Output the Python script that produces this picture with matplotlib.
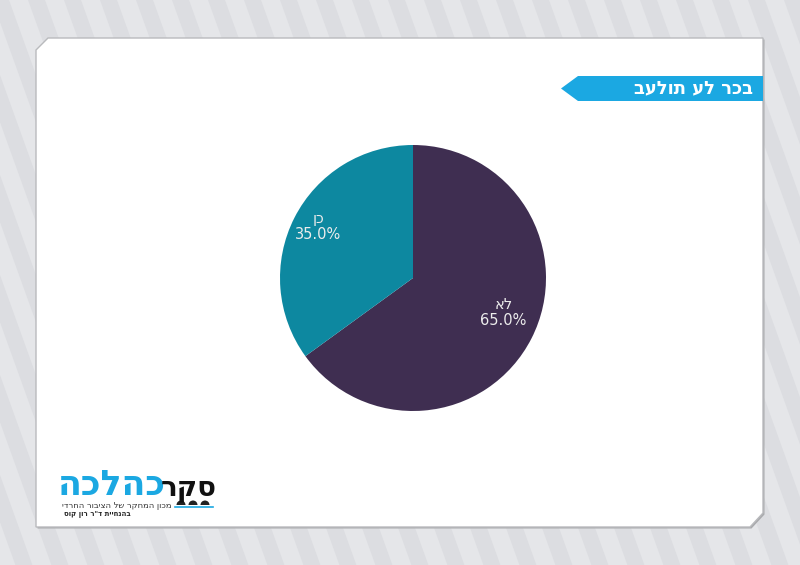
import matplotlib.pyplot as plt
from matplotlib.patches import Polygon, Wedge
import numpy as np

# chart data (Hebrew text stored in the left-to-right order it is drawn)
title = "בעלות על רכב"
labels = ["אל", "ןכ"]
values = [65.0, 35.0]
colors = ["#3f2e51", "#0d88a0"]

plt.rcParams["font.family"] = ["DejaVu Sans"]

W, H = 800, 565
fig = plt.figure(figsize=(W / 100, H / 100), dpi=100)
fig.patch.set_facecolor("#e5e6e9")

# background layer in pixel coordinates
bg = fig.add_axes([0, 0, 1, 1])
bg.set_xlim(0, W)
bg.set_ylim(H, 0)
bg.axis("off")

slope = 0.36
for x0 in np.arange(-260, W + 40, 36):
    bg.add_patch(Polygon([(x0, 0), (x0 + 17, 0), (x0 + 17 + slope * H, H),
                          (x0 + slope * H, H)], closed=True,
                         facecolor="#dcdde1", edgecolor="none"))

# white panel with chamfered corners + soft shadow
panel = [(36, 50), (48, 38), (763, 38), (763, 513), (750, 527), (36, 527)]
shadow = [(x + 1.5, y + 1.5) for x, y in panel]
bg.add_patch(Polygon(shadow, closed=True, facecolor="#a9aaad", edgecolor="none"))
bg.add_patch(Polygon(panel, closed=True, facecolor="white",
                     edgecolor="#b9babd", linewidth=1.0))

# title banner
bg.add_patch(Polygon([(578, 76), (763, 76), (763, 101), (578, 101), (561, 88.5)],
                     closed=True, facecolor="#1ba8e2", edgecolor="none"))
bg.text(753, 88.5, title, ha="right", va="center", color="white",
        fontsize=13, fontweight="bold")

# logo
bg.text(166, 495, "הכלהכ", ha="right", va="baseline", color="#1ba8e2",
        fontsize=25, fontweight="bold")
bg.text(217, 495, "רקס", ha="right", va="baseline", color="#111111",
        fontsize=20, fontweight="bold")
for px in (181, 193, 205):
    bg.add_patch(Wedge((px, 505), 4.5, 180, 360, facecolor="#222222"))
bg.plot([175, 213], [506.5, 506.5], color="#1ba8e2", lw=1.2)
bg.text(171, 505.5, "ידרחה רוביצה לש רקחמה ןוכמ", ha="right", va="center",
        color="#333333", fontsize=6)
bg.text(64, 514.5, "סוק ןור ר\"ד תייחנהב", ha="left", va="center",
        color="#222222", fontsize=5, fontweight="bold")

# pie
cx, cy, r = 413, 278, 133
ax = fig.add_axes([(cx - r) / W, (H - cy - r) / H, 2 * r / W, 2 * r / H])
wedges, _ = ax.pie(values, colors=colors, startangle=90, counterclock=False,
                   wedgeprops=dict(linewidth=0))
ax.set_xlim(-1, 1)
ax.set_ylim(-1, 1)
ax.set_aspect("equal")
ax.axis("off")

for w, lab, v, d, dt in zip(wedges, labels, values, [0.73, 0.81], [6, -1.5]):
    ang = np.deg2rad((w.theta1 + w.theta2) / 2 + dt)
    ax.text(d * np.cos(ang), d * np.sin(ang), f"{lab}\n{v:.1f}%",
            ha="center", va="center", color="#ececec", fontsize=10.5,
            linespacing=1.1)

fig.savefig("out.png", dpi=100, facecolor=fig.get_facecolor())
